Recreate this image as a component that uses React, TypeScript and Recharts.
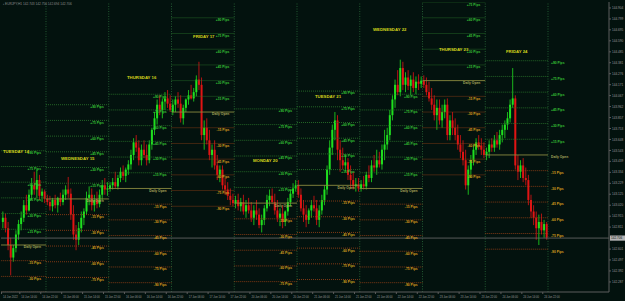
import React from 'react';
import { ComposedChart, Bar, Scatter, XAxis, YAxis, ReferenceLine } from 'recharts';

type Ohlc = [number, number, number, number]; // open, high, low, close

// Hourly candles per trading day (EURJPY)
const tue14: Ohlc[] = [
  [142.86, 142.96, 142.80, 142.90], [142.90, 142.94, 142.76, 142.80], [142.80, 142.86, 142.59, 142.64],
  [142.64, 142.71, 142.35, 142.52], [142.52, 142.64, 142.48, 142.61], [142.61, 142.78, 142.57, 142.74],
  [142.74, 142.88, 142.69, 142.84], [142.84, 142.96, 142.78, 142.90], [142.90, 143.07, 142.86, 143.02],
  [143.02, 143.12, 142.93, 142.97], [142.97, 143.17, 142.96, 143.12], [143.12, 143.28, 143.07, 143.21],
  [143.21, 143.34, 143.12, 143.17], [143.17, 143.36, 143.09, 143.26], [143.26, 143.31, 143.07, 143.11],
  [143.11, 143.18, 143.05, 143.15], [143.15, 143.17, 143.04, 143.08],
];
const wed15: Ohlc[] = [
  [143.08, 143.12, 143.02, 143.05], [143.05, 143.11, 142.97, 143.01], [143.01, 143.09, 142.96, 143.07],
  [143.07, 143.12, 142.99, 143.02], [143.02, 143.10, 142.95, 143.09], [143.09, 143.14, 143.01, 143.05],
  [143.05, 143.17, 143.02, 143.12], [143.12, 143.21, 143.07, 143.17], [143.17, 143.29, 143.09, 143.13],
  [143.13, 143.18, 142.88, 142.93], [142.93, 143.02, 142.69, 142.74], [142.74, 142.83, 142.59, 142.69],
  [142.69, 142.86, 142.64, 142.80], [142.80, 142.96, 142.76, 142.90], [142.90, 142.99, 142.83, 142.96],
  [142.96, 143.15, 142.93, 143.09], [143.09, 143.20, 143.02, 143.12], [143.12, 143.18, 142.97, 143.02],
  [143.02, 143.12, 142.96, 143.07], [143.07, 143.15, 142.99, 143.03], [143.03, 143.17, 143.00, 143.12],
  [143.12, 143.26, 143.07, 143.21], [143.21, 143.28, 143.12, 143.17], [143.17, 143.24, 143.11, 143.18],
];
const thu16: Ohlc[] = [
  [143.18, 143.24, 143.15, 143.21], [143.21, 143.28, 143.17, 143.24], [143.24, 143.34, 143.18, 143.20],
  [143.20, 143.31, 143.17, 143.28], [143.28, 143.38, 143.24, 143.34], [143.34, 143.40, 143.26, 143.30],
  [143.30, 143.38, 143.24, 143.36], [143.36, 143.45, 143.31, 143.41], [143.41, 143.55, 143.36, 143.50],
  [143.50, 143.66, 143.45, 143.62], [143.62, 143.69, 143.53, 143.57], [143.57, 143.64, 143.40, 143.45],
  [143.45, 143.60, 143.40, 143.55], [143.55, 143.64, 143.47, 143.50], [143.50, 143.60, 143.40, 143.45],
  [143.45, 143.64, 143.42, 143.60], [143.60, 143.76, 143.55, 143.74], [143.74, 143.91, 143.69, 143.85],
  [143.85, 144.03, 143.79, 143.98], [143.98, 144.07, 143.88, 143.93], [143.93, 144.04, 143.85, 144.01],
  [144.01, 144.10, 143.93, 144.04], [144.04, 144.12, 143.95, 143.99], [143.99, 144.07, 143.91, 143.93],
];
const fri17: Ohlc[] = [
  [143.91, 144.03, 143.88, 143.98], [143.98, 144.06, 143.91, 144.03], [144.03, 144.10, 143.95, 143.99],
  [143.99, 144.07, 143.81, 143.85], [143.85, 143.98, 143.79, 143.95], [143.95, 144.04, 143.91, 144.03],
  [144.03, 144.12, 143.98, 144.07], [144.07, 144.17, 144.03, 144.04], [144.04, 144.14, 144.01, 144.10],
  [144.10, 144.26, 144.06, 144.22], [144.22, 144.39, 144.12, 144.17], [144.17, 144.24, 143.64, 143.69],
  [143.69, 143.83, 143.55, 143.76], [143.76, 143.85, 143.60, 143.64], [143.64, 143.74, 143.45, 143.50],
  [143.50, 143.60, 143.38, 143.55], [143.55, 143.64, 143.36, 143.40], [143.40, 143.50, 143.26, 143.31],
  [143.31, 143.40, 143.24, 143.36], [143.36, 143.40, 143.17, 143.21], [143.21, 143.28, 143.12, 143.17],
  [143.17, 143.24, 143.07, 143.11], [143.11, 143.18, 143.02, 143.07], [143.07, 143.13, 143.01, 143.04],
];
const mon20: Ohlc[] = [
  [143.04, 143.11, 142.99, 143.07], [143.07, 143.13, 142.97, 143.01], [143.01, 143.09, 142.96, 143.05],
  [143.05, 143.12, 142.93, 142.96], [142.96, 143.07, 142.90, 143.02], [143.02, 143.09, 142.94, 142.97],
  [142.97, 143.05, 142.86, 142.90], [142.90, 143.02, 142.83, 142.97], [142.97, 143.07, 142.88, 142.93],
  [142.93, 142.99, 142.80, 142.83], [142.83, 142.93, 142.76, 142.88], [142.88, 143.02, 142.83, 142.99],
  [142.99, 143.12, 142.96, 143.07], [143.07, 143.17, 143.01, 143.11], [143.11, 143.18, 143.03, 143.05],
  [143.05, 143.13, 142.93, 142.97], [142.97, 143.07, 142.86, 142.90], [142.90, 142.99, 142.82, 142.94],
  [142.94, 143.02, 142.80, 142.86], [142.86, 142.97, 142.82, 142.96], [142.96, 143.09, 142.92, 143.05],
  [143.05, 143.17, 143.01, 143.13], [143.13, 143.23, 143.09, 143.18], [143.18, 143.26, 143.15, 143.21],
];
const tue21: Ohlc[] = [
  [143.21, 143.26, 143.09, 143.12], [143.12, 143.18, 142.96, 142.99], [142.99, 143.07, 142.86, 142.93],
  [142.93, 143.02, 142.81, 142.88], [142.88, 142.99, 142.84, 142.97], [142.97, 143.07, 142.90, 143.02],
  [143.02, 143.11, 142.96, 142.99], [142.99, 143.07, 142.83, 142.88], [142.88, 143.02, 142.81, 142.97],
  [142.97, 143.12, 142.93, 143.07], [143.07, 143.21, 143.02, 143.17], [143.17, 143.40, 143.12, 143.36],
  [143.36, 143.64, 143.31, 143.57], [143.57, 143.79, 143.50, 143.74], [143.74, 143.91, 143.64, 143.83],
  [143.83, 143.88, 143.45, 143.55], [143.55, 143.64, 143.34, 143.45], [143.45, 143.57, 143.36, 143.40],
  [143.40, 143.50, 143.34, 143.43], [143.43, 143.47, 143.26, 143.31], [143.31, 143.40, 143.18, 143.26],
  [143.26, 143.34, 143.17, 143.20], [143.20, 143.28, 143.15, 143.22], [143.22, 143.28, 143.15, 143.18],
];
const wed22: Ohlc[] = [
  [143.18, 143.26, 143.15, 143.22], [143.22, 143.30, 143.17, 143.20], [143.20, 143.34, 143.17, 143.31],
  [143.31, 143.40, 143.24, 143.28], [143.28, 143.45, 143.24, 143.40], [143.40, 143.50, 143.34, 143.38],
  [143.38, 143.55, 143.31, 143.45], [143.45, 143.53, 143.38, 143.41], [143.41, 143.60, 143.36, 143.55],
  [143.55, 143.74, 143.45, 143.60], [143.60, 143.76, 143.55, 143.69], [143.69, 143.93, 143.64, 143.88],
  [143.88, 144.07, 143.83, 144.03], [144.03, 144.22, 143.95, 144.17], [144.17, 144.31, 144.07, 144.10],
  [144.10, 144.41, 144.06, 144.33], [144.33, 144.39, 144.12, 144.17], [144.17, 144.29, 144.10, 144.24],
  [144.24, 144.31, 144.12, 144.16], [144.16, 144.26, 144.07, 144.22], [144.22, 144.29, 144.10, 144.14],
  [144.14, 144.25, 144.08, 144.20], [144.20, 144.27, 144.12, 144.18], [144.18, 144.25, 144.14, 144.21],
];
const thu23: Ohlc[] = [
  [144.21, 144.26, 144.14, 144.17], [144.17, 144.24, 144.07, 144.10], [144.10, 144.20, 144.01, 144.04],
  [144.04, 144.14, 143.93, 143.98], [143.98, 144.07, 143.83, 143.88], [143.88, 144.03, 143.74, 143.95],
  [143.95, 144.03, 143.79, 143.83], [143.83, 143.98, 143.76, 143.91], [143.91, 144.03, 143.85, 143.98],
  [143.98, 144.04, 143.64, 143.69], [143.69, 143.88, 143.64, 143.83], [143.83, 143.91, 143.69, 143.76],
  [143.76, 143.85, 143.64, 143.69], [143.69, 143.79, 143.55, 143.60], [143.60, 143.69, 143.47, 143.53],
  [143.53, 143.64, 143.40, 143.45], [143.45, 143.55, 143.17, 143.21], [143.21, 143.40, 143.12, 143.36],
  [143.36, 143.50, 143.28, 143.45], [143.45, 143.60, 143.40, 143.55], [143.55, 143.66, 143.50, 143.62],
  [143.62, 143.69, 143.55, 143.59], [143.59, 143.66, 143.50, 143.55], [143.55, 143.62, 143.47, 143.50],
];
const fri24: Ohlc[] = [
  [143.50, 143.57, 143.45, 143.53], [143.53, 143.64, 143.47, 143.60], [143.60, 143.66, 143.53, 143.57],
  [143.57, 143.69, 143.53, 143.64], [143.64, 143.72, 143.57, 143.60], [143.60, 143.74, 143.55, 143.69],
  [143.69, 143.79, 143.62, 143.74], [143.74, 143.83, 143.66, 143.79], [143.79, 143.91, 143.74, 143.85],
  [143.85, 144.03, 143.81, 143.98], [143.98, 144.33, 143.95, 144.04], [144.04, 144.07, 143.36, 143.40],
  [143.40, 143.50, 143.26, 143.34], [143.34, 143.45, 143.28, 143.40], [143.40, 143.47, 143.24, 143.28],
  [143.28, 143.38, 143.21, 143.26], [143.26, 143.31, 143.02, 143.07], [143.07, 143.12, 142.90, 142.96],
  [142.96, 143.02, 142.83, 142.90], [142.90, 142.96, 142.69, 142.80], [142.80, 142.93, 142.64, 142.86],
  [142.86, 142.94, 142.74, 142.78], [142.78, 142.88, 142.71, 142.84], [142.84, 142.86, 142.69, 142.71],
];

const dayCandles = [tue14, wed15, thu16, fri17, mon20, tue21, wed22, thu23, fri24];
const firstHour = [7, 0, 0, 0, 0, 0, 0, 0, 0];
const dayNames = ['TUESDAY 14', 'WEDNESDAY 15', 'THURSDAY 16', 'FRIDAY 17', 'MONDAY 20', 'TUESDAY 21', 'WEDNESDAY 22', 'THURSDAY 23', 'FRIDAY 24'];
const dayOpens = [142.64, 143.08, 143.18, 143.91, 143.04, 143.21, 143.18, 144.21, 143.50];
const titleTimes = [7.55, 29.74, 54.98, 80.23, 103.17, 126.88, 149.07, 174.31, 199.93];
const titlePrices = [143.53, 143.47, 144.24, 144.63, 143.45, 144.06, 144.70, 144.51, 144.49];
const pipSteps = [15, 30, 45, 60, 75, 90];
const PIP = 0.01;
const CURRENT = 142.706;

const timeTicks = [7, 14, 22, 30, 38, 46, 54, 62, 70, 78, 86, 94, 102, 110, 118, 126, 134, 142, 150, 158, 166, 174, 182, 190, 198, 206, 214];
const timeLabels = [
  '14 Jun 2022', '14 Jun 14:00', '14 Jun 22:00', '15 Jun 06:00', '15 Jun 14:00', '15 Jun 22:00',
  '16 Jun 06:00', '16 Jun 14:00', '16 Jun 22:00', '17 Jun 06:00', '17 Jun 14:00', '17 Jun 22:00',
  '20 Jun 06:00', '20 Jun 14:00', '20 Jun 22:00', '21 Jun 06:00', '21 Jun 14:00', '21 Jun 22:00',
  '22 Jun 06:00', '22 Jun 14:00', '22 Jun 22:00', '23 Jun 06:00', '23 Jun 14:00', '23 Jun 22:00',
  '24 Jun 06:00', '24 Jun 14:00', '24 Jun 22:00',
];
const priceTicks = [
  144.904, 144.799, 144.695, 144.590, 144.485, 144.381, 144.276, 144.171, 144.067, 143.962,
  143.857, 143.753, 143.648, 143.543, 143.439, 143.334, 143.229, 143.125, 143.020, 142.915,
  142.811, 142.601, 142.497, 142.392, 142.287,
];

const T0 = 6.789;
const T1 = 239.33;
const PMIN = 142.191;
const PMAX = 144.961;

// colours
const BG = '#03120e';
const BULL = '#1fe01f';
const BEAR = '#e01414';
const PLUS_LINE = '#2c7a2c';
const PLUS_TEXT = '#36c436';
const MINUS_LINE = '#a04216';
const MINUS_TEXT = '#d9a01e';
const OPEN_LINE = '#8a8a40';
const OPEN_TEXT = '#aaaa5c';
const SEP = '#2a6a3a';
const TITLE = '#d4d41c';
const AXIS = '#5c5c5c';
const AXIS_TEXT = '#9a9a9a';
const FONT = 'Liberation Sans, Arial, sans-serif';

const candles = dayCandles.flatMap((arr, d) =>
  arr.map(([o, h, l, c], i) => ({ t: d * 24 + firstHour[d] + i + 0.5, o, h, l, c }))
);

const lastDay = dayOpens.length - 1;
const inView = (p: number) => p > PMIN + 0.02 && p < PMAX;
const plusLabels = dayOpens
  .flatMap((op, d) =>
    pipSteps.map((s) => ({ t: d * 24 + 24, p: op + s * PIP, text: `+${s} Pips`, last: d === lastDay }))
  )
  .filter((r) => inView(r.p));
const minusLabels = dayOpens
  .flatMap((op, d) =>
    pipSteps.map((s) => ({ t: d * 24 + 24, p: op - s * PIP, text: `-${s} Pips`, last: d === lastDay }))
  )
  .filter((r) => inView(r.p));
const openLabels = dayOpens.map((op, d) => ({ t: d * 24 + 24, p: op, text: 'Daily Open', last: d === lastDay }));
const titles = dayNames.map((n, i) => ({ t: titleTimes[i], p: titlePrices[i], text: n }));

const Candle = (props: any) => {
  const { x, y, width, height, payload } = props;
  if (x == null || y == null || !payload) return null;
  const top = Math.min(y, y + height);
  const bot = Math.max(y, y + height);
  const span = payload.h - payload.l || 1e-9;
  const py = (v: number) => top + ((payload.h - v) / span) * (bot - top);
  const cx = x + width / 2;
  const up = payload.c >= payload.o;
  const color = up ? BULL : BEAR;
  const yo = py(payload.o);
  const yc = py(payload.c);
  const bt = Math.min(yo, yc);
  const bh = Math.max(Math.abs(yc - yo), 0.8);
  return (
    <g>
      <line x1={cx} x2={cx} y1={top} y2={bot} stroke={color} strokeWidth={0.8} />
      <rect x={cx - 1} y={bt} width={2} height={bh} fill={color} />
    </g>
  );
};

const makeLevelLabel = (color: string) => (props: any) => {
  const { cx, cy, payload } = props;
  if (cx == null || cy == null) return null;
  return (
    <text
      x={payload.last ? cx + 3 : cx - 5}
      y={cy + 3.4}
      textAnchor={payload.last ? 'start' : 'end'}
      fontSize={3.3}
      fontWeight="bold"
      fontFamily={FONT}
      fill={color}
    >
      {payload.text}
    </text>
  );
};

const TitleShape = (props: any) => {
  const { cx, cy, payload } = props;
  if (cx == null || cy == null) return null;
  return (
    <text x={cx} y={cy + 1.6} fontSize={4.3} fontWeight="bold" fontFamily={FONT} fill={TITLE}>
      {payload.text}
    </text>
  );
};

const TimeTick = (props: any) => {
  const { x, y, payload } = props;
  const idx = timeTicks.indexOf(payload.value);
  return (
    <text x={x + 1.5} y={y + 3.6} fontSize={2.7} fontFamily={FONT} fill={AXIS_TEXT} textAnchor="start">
      {idx >= 0 ? timeLabels[idx] : ''}
    </text>
  );
};

const PriceTick = (props: any) => {
  const { x, y, payload } = props;
  return (
    <text x={x + 1} y={y + 1.1} fontSize={3.1} fontFamily={FONT} fill={AXIS_TEXT} textAnchor="start">
      {Number(payload.value).toFixed(3)}
    </text>
  );
};

const PriceTag = (props: any) => {
  const vb = props.viewBox || {};
  const x = (vb.x || 0) + (vb.width || 0);
  const y = vb.y || 0;
  return (
    <g>
      <rect x={x + 1} y={y - 2.6} width={15} height={5.2} fill="#b4b4b4" />
      <text x={x + 2} y={y + 1.2} fontSize={3.1} fontFamily={FONT} fill="#111">
        {CURRENT.toFixed(3)}
      </text>
    </g>
  );
};

export default function App() {
  const levelLines: React.ReactElement[] = [];
  dayOpens.forEach((op, d) => {
    const t0 = d * 24;
    const t1 = d * 24 + 24;
    pipSteps.forEach((s) => {
      levelLines.push(
        <ReferenceLine
          key={`p${d}-${s}`}
          segment={[{ x: t0, y: op + s * PIP }, { x: t1, y: op + s * PIP }]}
          stroke={PLUS_LINE}
          strokeWidth={0.8}
          strokeDasharray="1 1"
          ifOverflow="hidden"
        />
      );
      levelLines.push(
        <ReferenceLine
          key={`m${d}-${s}`}
          segment={[{ x: t0, y: op - s * PIP }, { x: t1, y: op - s * PIP }]}
          stroke={MINUS_LINE}
          strokeWidth={0.8}
          strokeDasharray="1 1"
          ifOverflow="hidden"
        />
      );
    });
    levelLines.push(
      <ReferenceLine
        key={`o${d}`}
        segment={[{ x: t0, y: op }, { x: t1, y: op }]}
        stroke={OPEN_LINE}
        strokeWidth={0.9}
        ifOverflow="hidden"
      />
    );
  });
  const separators = dayOpens.map((_, d) => (
    <ReferenceLine key={`s${d}`} x={d * 24 + 24} stroke={SEP} strokeDasharray="1 1.5" strokeWidth={0.8} ifOverflow="hidden" />
  ));

  return (
    <div style={{ position: 'absolute', left: 0, top: 0, width: 625, height: 301, background: BG, fontFamily: FONT }}>
      <ComposedChart
        width={625}
        height={301}
        data={candles}
        margin={{ top: 2, right: 0, bottom: 0, left: 1 }}
        style={{ background: BG }}
      >
        <XAxis
          dataKey="t"
          type="number"
          domain={[T0, T1]}
          allowDataOverflow
          ticks={timeTicks}
          interval={0}
          height={9}
          tickSize={2}
          tickMargin={0}
          axisLine={{ stroke: AXIS }}
          tickLine={{ stroke: AXIS }}
          tick={<TimeTick />}
        />
        <XAxis xAxisId="top" orientation="top" type="number" domain={[0, 1]} height={0} tick={false} tickLine={false} axisLine={{ stroke: AXIS }} />
        <YAxis
          orientation="right"
          type="number"
          domain={[PMIN, PMAX]}
          allowDataOverflow
          ticks={priceTicks}
          interval={0}
          width={16}
          tickSize={2}
          tickMargin={0}
          axisLine={{ stroke: AXIS }}
          tickLine={{ stroke: AXIS }}
          tick={<PriceTick />}
        />
        <YAxis yAxisId="left" orientation="left" type="number" domain={[0, 1]} width={0} tick={false} tickLine={false} axisLine={{ stroke: AXIS }} />
        {separators}
        {levelLines}
        <ReferenceLine y={CURRENT} stroke="#6c6c6c" strokeWidth={0.8} label={PriceTag} />
        <Bar dataKey={(d: any) => [d.l, d.h]} shape={Candle} barSize={2} isAnimationActive={false} />
        <Scatter data={plusLabels} dataKey="p" shape={makeLevelLabel(PLUS_TEXT)} isAnimationActive={false} />
        <Scatter data={minusLabels} dataKey="p" shape={makeLevelLabel(MINUS_TEXT)} isAnimationActive={false} />
        <Scatter data={openLabels} dataKey="p" shape={makeLevelLabel(OPEN_TEXT)} isAnimationActive={false} />
        <Scatter data={titles} dataKey="p" shape={TitleShape} isAnimationActive={false} />
      </ComposedChart>
      <svg style={{ position: 'absolute', left: 0, top: 0 }} width={260} height={8}>
        <text x={3} y={5} fontSize={3.2} fontFamily={FONT} fill="#8c8c8c">
          ▪ EURJPY,H1  142.743 142.756 142.694 142.706
        </text>
      </svg>
    </div>
  );
}
